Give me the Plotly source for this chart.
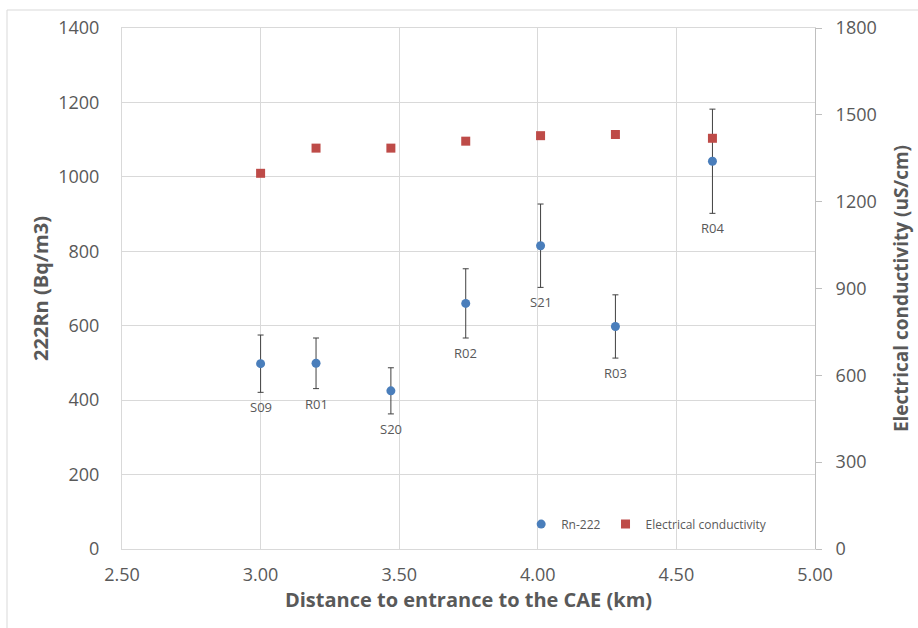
import plotly.graph_objects as go

sites = ["S09", "R01", "S20", "R02", "S21", "R03", "R04"]
distance_km = [3.00, 3.20, 3.47, 3.74, 4.01, 4.28, 4.63]
rn222 = [498, 499, 425, 660, 815, 598, 1042]
rn222_err = [77, 68, 62, 93, 112, 85, 140]
conductivity = [1298, 1385, 1385, 1409, 1428, 1432, 1419]

FONT = "Open Sans, sans-serif"
GRAY = "#595959"
GRID = "#d9d9d9"

fig = go.Figure()

fig.add_trace(go.Scatter(
    x=distance_km, y=rn222, mode="markers", name="Rn-222",
    marker=dict(symbol="circle", size=9, color="#4a7ebb"),
    error_y=dict(type="data", array=rn222_err, visible=True,
                 color="#404040", thickness=1, width=3),
    yaxis="y",
))
fig.add_trace(go.Scatter(
    x=distance_km, y=conductivity, mode="markers", name="Electrical conductivity",
    marker=dict(symbol="square", size=9, color="#be4b48"),
    yaxis="y2",
))

for s, xv, yv, ev in zip(sites, distance_km, rn222, rn222_err):
    fig.add_annotation(x=xv, y=yv - ev, xref="x", yref="y", text=s,
                       showarrow=False, yanchor="top", yshift=-4,
                       font=dict(family=FONT, size=13, color=GRAY))

fig.update_layout(
    width=918, height=628,
    margin=dict(l=122, r=103, t=28, b=79, autoexpand=False),
    paper_bgcolor="white", plot_bgcolor="white",
    font=dict(family=FONT, color=GRAY),
    showlegend=True,
    legend=dict(orientation="h", x=0.576, y=0.02, xanchor="left", yanchor="bottom",
                bgcolor="rgba(255,255,255,0)",
                font=dict(family=FONT, size=12, color=GRAY),
                itemwidth=30),
    xaxis=dict(range=[2.5, 5.0], dtick=0.5, tick0=2.5, tickformat=".2f",
               showgrid=True, gridcolor=GRID, zeroline=False, automargin=False,
               showline=True, linecolor=GRID, mirror=True, ticks="",
               ticklabelstandoff=9,
               tickfont=dict(size=18, color=GRAY),
               title=dict(text="<b>Distance to entrance to the CAE (km)</b>",
                          font=dict(size=20, color=GRAY), standoff=4)),
    yaxis=dict(range=[0, 1400], dtick=200, showgrid=True, gridcolor=GRID,
               zeroline=False, showline=True, linecolor=GRID, ticks="",
               automargin=False, ticklabelstandoff=18,
               tickfont=dict(size=18, color=GRAY),
               title=dict(text="<b>222Rn (Bq/m3)</b>",
                          font=dict(size=20, color=GRAY), standoff=4)),
    yaxis2=dict(range=[0, 1800], dtick=300, overlaying="y", side="right",
                showgrid=False, zeroline=False, showline=True, linecolor="#bfbfbf",
                ticks="outside", ticklen=6, tickcolor="#bfbfbf",
                automargin=False, ticklabelstandoff=10,
                tickfont=dict(size=18, color=GRAY),
                title=dict(text="<b>Electrical conductivity (uS/cm)</b>",
                           font=dict(size=19, color=GRAY), standoff=18)),
)

# outer chart frame
fig.add_shape(type="rect", xref="paper", yref="paper",
              x0=-115 / 693, x1=1.2, y0=-0.3, y1=1 + 18 / 521,
              line=dict(color=GRID, width=1), layer="below")

fig.write_html("out.html")
